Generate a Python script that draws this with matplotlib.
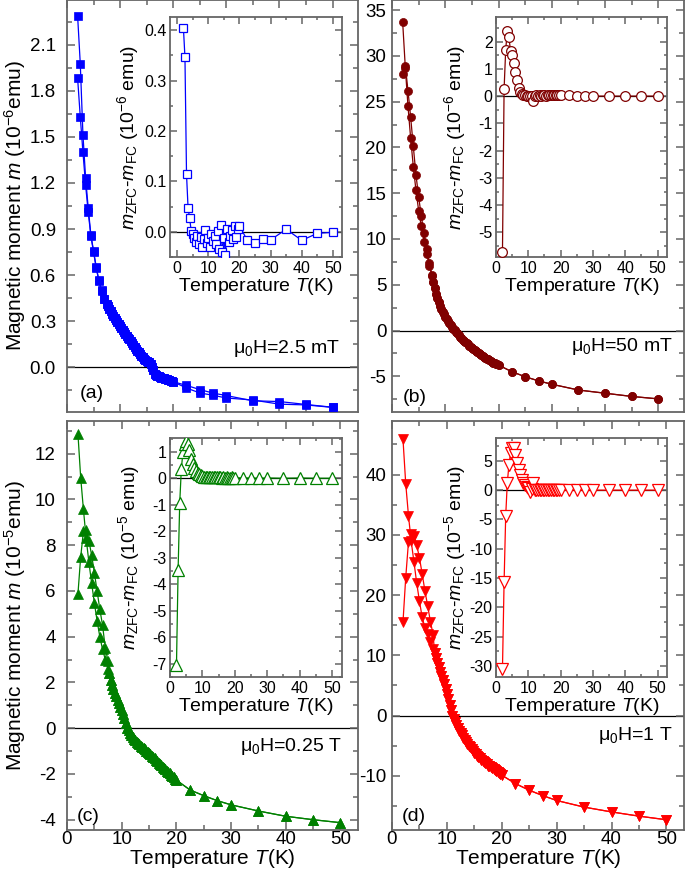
import matplotlib
matplotlib.use("Agg")
import matplotlib.pyplot as plt
from matplotlib.ticker import MultipleLocator, FormatStrFormatter

plt.rcParams['font.family'] = ['Liberation Sans', 'DejaVu Sans']
plt.rcParams['mathtext.fontset'] = 'custom'
plt.rcParams['mathtext.rm'] = 'Liberation Sans'
plt.rcParams['mathtext.it'] = 'Liberation Sans:italic'
plt.rcParams['axes.unicode_minus'] = False

# ---- temperatures (K) ----
T_low = [2, 2.5, 3, 3.5, 4, 4.5, 5, 5.5, 6, 6.5, 7, 7.5]
T_dense = [7.75, 8.0, 8.25, 8.5, 8.75, 9.0, 9.25, 9.5, 9.75, 10.0,
           10.25, 10.5, 10.75, 11.0, 11.25, 11.5, 11.75, 12.0, 12.25, 12.5,
           12.75, 13.0, 13.25, 13.5, 13.75, 14.0, 14.25, 14.5, 14.75, 15.0,
           15.25, 15.5, 15.75, 16.0, 16.25, 16.5, 16.75, 17.0, 17.25, 17.5,
           17.75, 18.0, 18.25, 18.5, 18.75, 19.0, 19.25, 19.5, 19.75, 20.0]
T_sparse = [22.5, 25, 27.5, 30, 35, 40, 45, 50]
T_idense = [8, 8.5, 9, 9.5, 10, 10.5, 11, 11.5, 12, 12.5, 13, 13.5, 14, 14.5,
            15, 15.5, 16, 16.5, 17, 17.5, 18, 18.5, 19, 19.5, 20]

# ---- (a) 2.5 mT, 10^-6 emu ----
a_zfc_low = [2.285, 1.976, 1.515, 1.235, 1.035, 0.861, 0.757, 0.654, 0.567, 0.502, 0.448, 0.415]
a_fc_low = [1.88, 1.63, 1.40, 1.187, 1.008, 0.855, 0.75, 0.648, 0.562, 0.498, 0.445, 0.413]
a_dense = [0.398, 0.381, 0.365, 0.348, 0.332, 0.32, 0.308, 0.296, 0.284, 0.272,
           0.258, 0.245, 0.232, 0.219, 0.206, 0.194, 0.182, 0.17, 0.158, 0.146,
           0.134, 0.122, 0.11, 0.099, 0.088, 0.077, 0.066, 0.055, 0.047, 0.042,
           0.038, 0.035, 0.025, 0.005, -0.02, -0.04, -0.05, -0.055, -0.059, -0.063,
           -0.066, -0.069, -0.072, -0.075, -0.078, -0.081, -0.084, -0.087, -0.09, -0.093]
a_zfc_sparse = [-0.134, -0.166, -0.181, -0.199, -0.212, -0.239, -0.244, -0.26]
a_fc_sparse = [-0.117, -0.144, -0.167, -0.183, -0.217, -0.222, -0.241, -0.259]
ia_low = [0.405, 0.346, 0.114, 0.047, 0.027, 0.002, -0.005, -0.012, -0.02, -0.008, -0.025, -0.01]
ia_dense = [-0.03, -0.015, 0.004, -0.022, -0.012, -0.03, -0.005, -0.018, -0.008, -0.025,
            0.002, -0.035, 0.014, -0.04, -0.012, -0.046, 0.005, -0.02, -0.008, 0.003,
            -0.015, 0.012, -0.01, 0.006, 0.012]
ia_sparse = [-0.017, -0.022, -0.014, -0.016, 0.005, -0.017, -0.003, -0.001]

# ---- (b) 50 mT, 10^-6 emu ----
b_zfc_low = [28.0, 28.9, 26.2, 23.3, 20.1, 17.0, 14.6, 12.5, 10.6, 8.9, 7.4, 6.1]
b_fc_low = [33.7, 28.7, 24.5, 21.0, 17.9, 15.3, 13.1, 11.4, 9.7, 8.4, 7.1, 5.95]
b_dense = [5.3, 4.6, 4.0, 3.5, 3.1, 2.7, 2.35, 2.05, 1.75, 1.5,
           1.25, 1.02, 0.8, 0.6, 0.4, 0.2, 0.02, -0.15, -0.32, -0.5,
           -0.68, -0.85, -1.0, -1.14, -1.27, -1.4, -1.52, -1.64, -1.76, -1.88,
           -2.0, -2.12, -2.24, -2.36, -2.47, -2.58, -2.68, -2.78, -2.88, -2.98,
           -3.07, -3.16, -3.25, -3.34, -3.42, -3.5, -3.57, -3.64, -3.71, -3.78]
b_sparse = [-4.5, -5.05, -5.5, -5.87, -6.5, -6.85, -7.2, -7.47]
ib_low = [-5.73, 0.25, 1.7, 2.4, 2.15, 1.65, 1.5, 1.2, 0.9, 0.6, 0.3, 0.15]
ib_dense = [0.08, 0.05, 0.03, 0.02, 0.01, 0.0, 0.02, -0.17, 0.02, 0.03,
            0.01, 0.04, 0.02, 0.03, 0.05, 0.02, 0.04, 0.03, 0.05, 0.04,
            0.03, 0.05, 0.04, 0.03, 0.03]
ib_sparse = [0.04, 0.01, 0.0, 0.0, 0.0, 0.0, 0.0, 0.0]

# ---- (c) 0.25 T, 10^-5 emu ----
c_zfc_low = [5.87, 7.48, 8.6, 8.65, 8.2, 7.57, 6.8, 6.0, 5.2, 4.5, 3.5, 2.95]
c_fc_low = [12.87, 10.96, 9.57, 8.3, 7.26, 6.35, 5.48, 4.7, 4.0, 3.45, 3.0, 2.6]
c_dense = [2.4, 2.1, 1.9, 1.72, 1.55, 1.39, 1.24, 1.09, 0.94, 0.78,
           0.61, 0.43, 0.23, 0.03, -0.1, -0.2, -0.29, -0.38, -0.45, -0.52,
           -0.59, -0.65, -0.71, -0.77, -0.83, -0.88, -0.93, -0.98, -1.03, -1.08,
           -1.14, -1.2, -1.26, -1.32, -1.38, -1.44, -1.5, -1.56, -1.62, -1.68,
           -1.74, -1.8, -1.86, -1.92, -1.97, -2.03, -2.09, -2.15, -2.21, -2.27]
c_sparse = [-2.7, -2.95, -3.17, -3.35, -3.62, -3.85, -4.0, -4.13]
ic_low = [-7.05, -3.47, -0.93, 0.37, 1.0, 1.3, 1.41, 1.3, 1.06, 0.75, 0.55, 0.4]
ic_dense = [0.3, 0.22, 0.16, 0.12, 0.09, 0.07, 0.06, 0.05, 0.05, 0.04,
            0.05, 0.04, 0.04, 0.05, 0.04, 0.04, 0.03, 0.04, 0.03, 0.04,
            0.03, 0.03, 0.04, 0.03, 0.03]
ic_sparse = [0.02, 0.02, 0.01, 0.02, 0.01, 0.02, 0.01, 0.01]

# ---- (d) 1 T, 10^-5 emu ----
d_zfc_low = [15.5, 22.9, 28.8, 30.2, 29.8, 28.3, 26.2, 23.5, 20.7, 18.2, 15.6, 13.4]
d_fc_low = [45.9, 38.5, 33.2, 28.9, 25.5, 22.0, 19.0, 16.3, 14.6, 13.6, 12.2, 11.0]
d_dense = [10.4, 9.6, 8.8, 8.0, 7.3, 6.6, 5.9, 5.2, 4.4, 3.6,
           2.7, 1.8, 0.9, 0.0, -0.55, -1.1, -1.6, -2.05, -2.5, -2.9,
           -3.3, -3.65, -4.0, -4.35, -4.7, -5.0, -5.3, -5.6, -5.9, -6.15,
           -6.4, -6.65, -6.9, -7.1, -7.3, -7.5, -7.7, -7.9, -8.1, -8.3,
           -8.45, -8.6, -8.75, -8.9, -9.05, -9.2, -9.35, -9.5, -9.7, -9.9]
d_sparse = [-11.3, -12.4, -13.3, -14.1, -15.2, -16.0, -16.7, -17.3]
id_low = [-30.5, -15.7, -4.4, 1.3, 4.3, 6.3, 7.2, 7.2, 6.0, 4.6, 3.5, 2.6]
id_dense = [1.8, 1.3, 0.9, 0.6, 0.4, -0.4, 0.2, 1.2, 0.1, 0.1,
            0.05, 0.05, 0.0, 0.05, 0.0, 0.0, 0.0, 0.0, 0.0, 0.0,
            0.0, 0.0, 0.0, 0.0, 0.0]
id_sparse = [0.0, 0.0, 0.0, 0.0, 0.0, 0.0, 0.0, 0.0]

W, H = 685, 877
fig = plt.figure(figsize=(W / 100, H / 100), dpi=100)

def fr(x0, y0, x1, y1):
    # pixel box (top-left origin) -> figure fraction rect
    return [x0 / W, 1 - y1 / H, (x1 - x0) / W, (y1 - y0) / H]

spine_c = '#666666'

def style(ax, ymaj, fs, lmaj, lmin, xpad, ypad):
    for s in ax.spines.values():
        s.set_color(spine_c)
        s.set_linewidth(1.3)
    ax.xaxis.set_major_locator(MultipleLocator(10))
    ax.xaxis.set_minor_locator(MultipleLocator(5))
    ax.yaxis.set_major_locator(MultipleLocator(ymaj))
    ax.yaxis.set_minor_locator(MultipleLocator(ymaj / 2))
    ax.tick_params(which='both', direction='in', top=True, right=True,
                   color=spine_c, width=1.1, labelsize=fs)
    ax.tick_params(axis='x', which='both', pad=xpad)
    ax.tick_params(axis='y', which='both', pad=ypad)
    ax.tick_params(which='major', length=lmaj)
    ax.tick_params(which='minor', length=lmin)

panels = [
    dict(rect=fr(67, 0, 358, 412), inset=fr(170, 17, 342, 257), xlim=(0, 54.8),
         ylim=(-0.29, 2.39), ymaj=0.3, fmt='%.1f', color='#0000ff', mk='s', ms=5.5,
         zfc=a_zfc_low, fc=a_fc_low, dense=a_dense, zs=a_zfc_sparse, fs=a_fc_sparse,
         ilow=ia_low, idense=ia_dense, isp=ia_sparse, ixlim=(-2.3, 52.9),
         iylim=(-0.05, 0.426), iymaj=0.1, ifmt='%.1f', ims=5.5,
         unit='6', field='2.5 mT', tag='(a)', fpos=(0.94, 0.155), tpos=(0.045, 0.046),
         xlab=False, ylab=True, ypad=8, iyl=-0.17),
    dict(rect=fr(392, 0, 684, 412), inset=fr(496, 17, 667, 257), xlim=(0, 54.8),
         ylim=(-8.9, 36.1), ymaj=5, fmt='%d', color='#800000', mk='o', ms=5.8,
         zfc=b_zfc_low, fc=b_fc_low, dense=b_dense, zs=b_sparse, fs=b_sparse,
         ilow=ib_low, idense=ib_dense, isp=ib_sparse, ixlim=(0, 52.9),
         iylim=(-5.9, 2.9), iymaj=1, ifmt='%d', ims=7,
         unit='6', field='50 mT', tag='(b)', fpos=(0.962, 0.158), tpos=(0.036, 0.036),
         xlab=False, ylab=False, ypad=4, iyl=-0.165),
    dict(rect=fr(67, 421, 358, 830), inset=fr(170, 438, 342, 677), xlim=(0, 53.2),
         ylim=(-4.45, 13.43), ymaj=2, fmt='%d', color='#008000', mk='^', ms=6.5,
         zfc=c_zfc_low, fc=c_fc_low, dense=c_dense, zs=c_sparse, fs=c_sparse,
         ilow=ic_low, idense=ic_dense, isp=ic_sparse, ixlim=(0, 53.1),
         iylim=(-7.5, 1.53), iymaj=1, ifmt='%d', ims=8,
         unit='5', field='0.25 T', tag='(c)', fpos=(0.945, 0.204), tpos=(0.035, 0.032),
         xlab=True, ylab=True, ypad=8, iyl=-0.16),
    dict(rect=fr(392, 421, 684, 830), inset=fr(496, 438, 667, 677), xlim=(0, 53.2),
         ylim=(-19.0, 48.9), ymaj=10, fmt='%d', color='#ff0000', mk='v', ms=6.5,
         zfc=d_zfc_low, fc=d_fc_low, dense=d_dense, zs=d_sparse, fs=d_sparse,
         ilow=id_low, idense=id_dense, isp=id_sparse, ixlim=(0, 52.9),
         iylim=(-31.9, 8.9), iymaj=5, ifmt='%d', ims=8,
         unit='5', field='1 T', tag='(d)', fpos=(0.96, 0.231), tpos=(0.035, 0.034),
         xlab=True, ylab=False, ypad=4, iyl=-0.165),
]

for p in panels:
    ax = fig.add_axes(p['rect'])
    col = p['color']
    ax.axhline(0, color='black', lw=0.9, zorder=1)
    for low, sp in ((p['zfc'], p['zs']), (p['fc'], p['fs'])):
        ax.plot(T_low + T_dense + T_sparse, low + p['dense'] + sp, color=col, lw=0.9,
                marker=p['mk'], ms=p['ms'], mec=col, mfc=col, mew=0.5, zorder=3)
    ax.set_xlim(*p['xlim'])
    ax.set_ylim(*p['ylim'])
    style(ax, p['ymaj'], 13.5, 6, 3.5, 1, p['ypad'])
    ax.yaxis.set_major_formatter(FormatStrFormatter(p['fmt']))
    if p['xlab']:
        ax.set_xlabel('Temperature $T$(K)', fontsize=15, labelpad=-1)
    else:
        ax.tick_params(labelbottom=False)
    if p['ylab']:
        ax.set_ylabel('Magnetic moment $m$ (10$^{-%s}$emu)' % p['unit'], fontsize=15)
        ax.yaxis.set_label_coords(-0.134, 0.5)
    ax.text(p['fpos'][0], p['fpos'][1], '\u03bc$_0$H=' + p['field'], transform=ax.transAxes,
            ha='right', va='center', fontsize=14)
    ax.text(p['tpos'][0], p['tpos'][1], p['tag'], transform=ax.transAxes,
            ha='left', va='center', fontsize=14)

    ins = fig.add_axes(p['inset'])
    ins.axhline(0, color='black', lw=0.9, zorder=1)
    ins.plot(T_low + T_idense + T_sparse, p['ilow'] + p['idense'] + p['isp'], color=col,
             lw=0.9, marker=p['mk'], ms=p['ims'], mec=col, mfc='white', mew=0.9, zorder=3)
    ins.set_xlim(*p['ixlim'])
    ins.set_ylim(*p['iylim'])
    style(ins, p['iymaj'], 11.5, 5, 2.5, 3, 2.5)
    ins.yaxis.set_major_formatter(FormatStrFormatter(p['ifmt']))
    ins.set_xlabel('Temperature $T$(K)', fontsize=14, labelpad=0)
    ins.set_ylabel('$m_{\\rm ZFC}$-$m_{\\rm FC}$ (10$^{-%s}$ emu)' % p['unit'], fontsize=14)
    ins.yaxis.set_label_coords(p['iyl'], 0.5)

fig.savefig('out.png', dpi=100)
